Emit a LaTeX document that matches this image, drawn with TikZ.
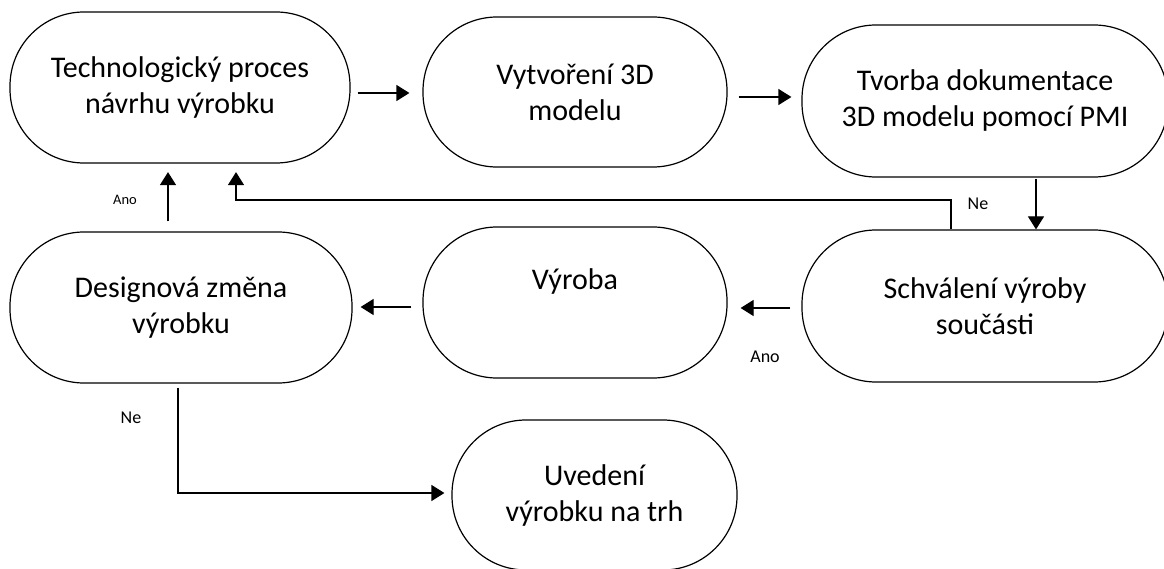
\documentclass[tikz,border=0pt]{standalone}
\usepackage{fontspec}
\setmainfont{Carlito}
\usetikzlibrary{arrows.meta,calc}

\tikzset{
  stadium/.style={draw=black, line width=1.2pt, fill=white, inner sep=0pt,
    align=center, font=\fontsize{30}{36}\selectfont,
    minimum height=151pt, rounded corners=74pt},
  arr/.style={draw=black, line width=1.2pt,
    -{Triangle[length=13pt,width=16pt]}},
  lbl/.style={font=\fontsize{18}{20}\selectfont, inner sep=0pt},
  lblsmall/.style={font=\fontsize{14.5}{16}\selectfont, inner sep=0pt}
}

\begin{document}
\begin{tikzpicture}[x=1pt, y=1pt]
  \useasboundingbox (0,0) rectangle (1164,-569);
  \fill[white] (0,0) rectangle (1164,-569);
  \clip (0,0) rectangle (1164,-569);

  % process steps
  \node[stadium, minimum width=340pt] (n1) at (180,-87.5)
    {Technologický proces\\návrhu výrobku};
  \node[stadium, minimum width=304pt, minimum height=150pt] (n2) at (575,-92)
    {Vytvoření 3D\\modelu};
  \node[stadium, minimum width=366pt, minimum height=152pt] (n3) at (985,-101)
    {Tvorba dokumentace\\3D modelu pomocí PMI};
  \node[stadium, minimum width=342pt] (n4) at (181,-307.5)
    {Designová změna\\výrobku};
  \node[stadium, minimum width=304pt] (n5) at (575,-302.5)
    {Výroba\\\strut};
  \node[stadium, minimum width=366pt, minimum height=152pt] (n6) at (985,-306)
    {Schválení výroby\\součásti};
  \node[stadium, minimum width=285pt, minimum height=150pt] (n7) at (594.5,-495)
    {Uvedení\\výrobku na trh};

  % connectors
  \draw[arr] ($(n1.east)+(7,-5.5)$) -- ($(n2.west)+(-13,-1)$);
  \draw[arr] ($(n2.east)+(11,-5)$) -- ($(n3.west)+(-10,4)$);
  \draw[arr] ($(n3.south)+(51,-1)$) -- ($(n6.north)+(51,0)$);
  \draw[arr] ($(n6.west)+(-11,-2)$) -- ($(n5.east)+(13,-5.5)$);
  \draw[arr] ($(n5.west)+(-11,-4.5)$) -- ($(n4.east)+(8,0.5)$);
  \draw[arr] ($(n4.north)+(-13,10)$) -- ($(n1.south)+(-12,-8.5)$);
  \draw[arr] ($(n6.north)+(-34,0)$) |- ($(n1.south)+(56,-36.5)$)
    -- ($(n1.south)+(56,-8.5)$);
  \draw[arr] ($(n4.south)+(-3,-4)$) |- ($(n7.west)+(-7,2)$);

  % branch labels
  \node[lblsmall] (lAno1) at (125,-200) {Ano};
  \node[lbl] (lNe1) at (978,-204) {Ne};
  \node[lbl] (lAno2) at (765,-357) {Ano};
  \node[lbl] (lNe2) at (131,-418) {Ne};
\end{tikzpicture}
\end{document}
